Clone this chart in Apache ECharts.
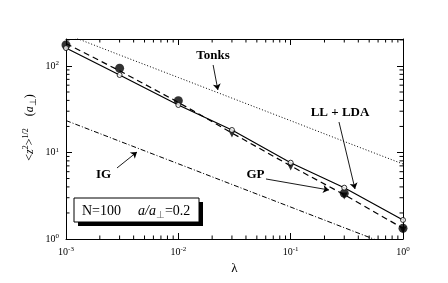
<!DOCTYPE html>
<html>
<head>
<meta charset="utf-8">
<script src="https://cdn.jsdelivr.net/npm/echarts@6/dist/echarts.min.js"></script>
<style>html,body{margin:0;padding:0;background:#fff}#c{width:448px;height:283px}</style>
</head>
<body>
<div id="c"></div>
<script>
// ---- data ----
const lambdas = [0.001, 0.003, 0.01, 0.03, 0.1, 0.3, 1];
const tonks = [233, 134, 73.6, 42.5, 23.3, 13.4, 7.36];
const idealGas = [23.4, 13.5, 7.4, 4.27, 2.34, 1.35, 0.74];
const llLda = [161, 78.7, 35.4, 18.2, 7.62, 3.92, 1.66];
const gp = [182, 88, 38, 16.8, 7.0, 3.25, 1.33];
const openPts = [161, 78.7, 35.4, 18.2, 7.62, 3.92, 1.66];
const filledCircleLambdas = [0.001, 0.003, 0.01, 0.3, 1];
const filledCircles = [175, 94, 39.7, 3.38, 1.33];
const triangleLambdas = [0.03, 0.1, 0.3, 1];
const triangles = [16.4, 6.8, 3.14, 1.27];
const xMinor = [2,3,4,5,6,7,8,9,20,30,40,50,60,70,80,90,200,300,400,500,600,700,800,900].map(v => v / 1000);
const yMinor = [2,3,4,5,6,7,8,9,20,30,40,50,60,70,80,90,200];

const X_MIN = 0.001, X_MAX = 1, Y_MIN = 1, Y_MAX = 205;
const zip = (xs, ys) => xs.map((x, i) => [x, ys[i]]);
const serif = 'Liberation Serif';

function powLabel(v) {
  const e = Math.round(Math.log10(v));
  if (Math.abs(Math.log10(v) - e) > 1e-6) return '';
  return '{b|10}{s|' + e + '}';
}
const tickRich = {
  b: {fontFamily: serif, fontSize: 10, color: '#000', lineHeight: 12},
  s: {fontFamily: serif, fontSize: 7, color: '#000', verticalAlign: 'top', lineHeight: 12, padding: [0, 0, 4, 0]}
};

const chart = echarts.init(document.getElementById('c'), null, {renderer: 'canvas'});
const axisCommon = {
  type: 'log', logBase: 10,
  axisLine: {lineStyle: {color: '#000', width: 1}},
  axisTick: {inside: true, length: 6, lineStyle: {color: '#000', width: 1}},
  splitLine: {show: false},
  minorTick: {show: false}
};

function minorRender(kind) {
  return function (params, api) {
    const v = api.value(kind === 'x' ? 0 : 1);
    const L = 3.5;
    const style = {stroke: '#000', lineWidth: 1};
    if (kind === 'x') {
      const b = api.coord([v, Y_MIN]);
      const t = api.coord([v, Y_MAX]);
      return {type: 'group', children: [
        {type: 'line', shape: {x1: b[0], y1: b[1], x2: b[0], y2: b[1] - L}, style},
        {type: 'line', shape: {x1: t[0], y1: t[1], x2: t[0], y2: t[1] + L}, style}
      ]};
    } else {
      const l = api.coord([X_MIN, v]);
      const r = api.coord([X_MAX, v]);
      return {type: 'group', children: [
        {type: 'line', shape: {x1: l[0], y1: l[1], x2: l[0] + L, y2: l[1]}, style},
        {type: 'line', shape: {x1: r[0], y1: r[1], x2: r[0] - L, y2: r[1]}, style}
      ]};
    }
  };
}

const arrowStyle = {color: '#000', width: 0.9, type: 'solid'};
const option = {
  animation: false,
  backgroundColor: '#fff',
  grid: {left: 66, right: 45, top: 39, bottom: 44, containLabel: false},
  xAxis: [
    Object.assign({}, axisCommon, {
      position: 'bottom', min: X_MIN, max: X_MAX,
      axisLabel: {margin: 7, formatter: powLabel, rich: tickRich},
      name: 'λ', nameLocation: 'middle', nameGap: 20,
      nameTextStyle: {fontFamily: serif, fontSize: 13, color: '#000'}
    }),
    Object.assign({}, axisCommon, {position: 'top', min: X_MIN, max: X_MAX, axisLabel: {show: false}})
  ],
  yAxis: [
    Object.assign({}, axisCommon, {
      position: 'left', min: Y_MIN, max: Y_MAX,
      axisLabel: {margin: 7, formatter: powLabel, rich: tickRich}
    }),
    Object.assign({}, axisCommon, {position: 'right', min: Y_MIN, max: Y_MAX, axisLabel: {show: false}})
  ],
  series: [
    {type: 'custom', name: 'xminor', renderItem: minorRender('x'), data: xMinor.map(v => [v, Y_MIN]), silent: true, z: 1},
    {type: 'custom', name: 'yminor', renderItem: minorRender('y'), data: yMinor.map(v => [X_MIN, v]), silent: true, z: 1},
    {type: 'line', name: 'Tonks', data: zip(lambdas, tonks), showSymbol: false, symbol: 'none', clip: true,
     lineStyle: {color: '#000', width: 1, type: [1, 2]}, silent: true},
    {type: 'line', name: 'IG', data: zip(lambdas, idealGas), showSymbol: false, symbol: 'none', clip: true,
     lineStyle: {color: '#000', width: 1, type: [5, 2, 1, 2]}, silent: true},
    {type: 'line', name: 'LL + LDA', data: zip(lambdas, llLda), showSymbol: false, symbol: 'none', clip: true,
     lineStyle: {color: '#000', width: 1.2}, silent: true},
    {type: 'line', name: 'GP', data: zip(lambdas, gp), showSymbol: false, symbol: 'none', clip: true,
     lineStyle: {color: '#000', width: 1.2, type: [6, 4]}, silent: true},
    {type: 'scatter', name: 'filled', data: zip(filledCircleLambdas, filledCircles), symbol: 'circle', symbolSize: 9,
     itemStyle: {color: '#000'}, silent: true, z: 3},
    {type: 'scatter', name: 'tri', data: zip(triangleLambdas, triangles), symbol: 'triangle', symbolRotate: 180, symbolSize: 7,
     itemStyle: {color: '#000'}, silent: true, z: 3},
    {type: 'scatter', name: 'open', data: zip(lambdas, openPts), symbol: 'circle', symbolSize: 5,
     itemStyle: {color: '#fff', borderColor: '#000', borderWidth: 1}, silent: true, z: 4,
     markLine: {
       silent: true, symbol: ['none', 'arrow'], symbolSize: 6, animation: false,
       label: {show: false}, lineStyle: arrowStyle, itemStyle: {color: '#000'}, emphasis: {disabled: true},
       data: [
         [{coord: [0.0204, 102.7]}, {coord: [0.0225, 52.8]}],
         [{coord: [0.2693, 22.5]}, {coord: [0.3739, 3.785]}],
         [{coord: [0.0603, 4.94]}, {coord: [0.2195, 3.686]}],
         [{coord: [0.002844, 6.62]}, {coord: [0.004284, 10.13]}]
       ]
     }}
  ],
  graphic: [
    {type: 'text', x: 30, y: 127.5, rotation: Math.PI / 2, silent: true,
     style: {
       text: '{p|<}{i|z}{sup|2}{p|>}{sup|1/2}{p|    (}{i|a}{sub|⊥}{p|)}',
       align: 'center', verticalAlign: 'middle',
       rich: {
         p: {fontFamily: serif, fontSize: 12, fill: '#000', lineHeight: 16},
         i: {fontFamily: serif, fontSize: 12, fontStyle: 'italic', fill: '#000', lineHeight: 16},
         sup: {fontFamily: serif, fontSize: 8, fill: '#000', verticalAlign: 'top', lineHeight: 16, padding: [0, 0, 6, 0]},
         sub: {fontFamily: serif, fontSize: 9, fill: '#000', verticalAlign: 'bottom', lineHeight: 16, padding: [5, 0, 0, 0]}
       }
     }},
    {type: 'text', x: 213, y: 56, silent: true, style: {text: 'Tonks', font: 'bold 13px "Liberation Serif"', fill: '#000', align: 'center', verticalAlign: 'middle'}},
    {type: 'text', x: 340, y: 113, silent: true, style: {text: 'LL + LDA', font: 'bold 13px "Liberation Serif"', fill: '#000', align: 'center', verticalAlign: 'middle'}},
    {type: 'text', x: 255.5, y: 175, silent: true, style: {text: 'GP', font: 'bold 13px "Liberation Serif"', fill: '#000', align: 'center', verticalAlign: 'middle'}},
    {type: 'text', x: 103.5, y: 175, silent: true, style: {text: 'IG', font: 'bold 13px "Liberation Serif"', fill: '#000', align: 'center', verticalAlign: 'middle'}},
    {type: 'rect', silent: true, shape: {x: 78, y: 202, width: 125, height: 24}, style: {fill: '#000'}},
    {type: 'rect', silent: true, shape: {x: 74, y: 198, width: 125, height: 24}, style: {fill: '#fff', stroke: '#000', lineWidth: 1}},
    {type: 'text', x: 82, y: 211, silent: true, style: {text: 'N=100', font: '14px "Liberation Serif"', fill: '#000', align: 'left', verticalAlign: 'middle'}},
    {type: 'text', x: 138, y: 211, silent: true,
     style: {
       text: '{i|a/a}{sub|⊥}{p|=0.2}', align: 'left', verticalAlign: 'middle',
       rich: {
         p: {fontFamily: serif, fontSize: 14, fill: '#000', lineHeight: 18},
         i: {fontFamily: serif, fontSize: 14, fontStyle: 'italic', fill: '#000', lineHeight: 18},
         sub: {fontFamily: serif, fontSize: 10, fill: '#666', verticalAlign: 'bottom', lineHeight: 18, padding: [6, 0, 0, 0]}
       }
     }}
  ]
};
chart.setOption(option);
</script>
</body>
</html>
